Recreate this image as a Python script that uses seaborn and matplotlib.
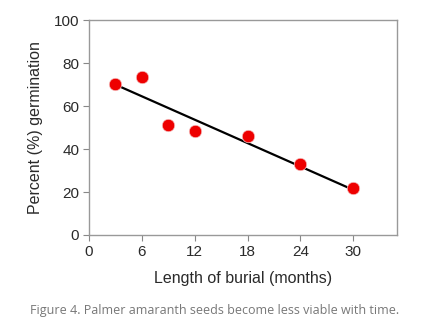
import matplotlib
matplotlib.use("Agg")
import matplotlib.pyplot as plt
import seaborn as sns
import pandas as pd

months = [3, 6, 9, 12, 18, 24, 30]
germination = [70.5, 73.5, 51, 48.5, 46, 33, 22]
errors = [1.0, 1.0, 2.5, 1.0, 1.5, 1.5, 1.0]
fit_x = [3, 30]
fit_y = [70, 21]
x_ticks = [0, 6, 12, 18, 24, 30]
y_ticks = [0, 20, 40, 60, 80, 100]

sns.set_theme(style="white")
plt.rcParams['font.family'] = ['Liberation Sans', 'DejaVu Sans']

fig = plt.figure(figsize=(4.33, 3.25), dpi=100)
fig.patch.set_facecolor('white')
ax = fig.add_axes([0.2055, 0.277, 0.712, 0.661])

df = pd.DataFrame({"m": months, "g": germination})
ax.errorbar(months, germination, yerr=errors, fmt='none', ecolor='#c8c8c8', elinewidth=1, zorder=1)
sns.lineplot(x=fit_x, y=fit_y, ax=ax, color='black', linewidth=1.6, zorder=2)
sns.scatterplot(data=df, x="m", y="g", ax=ax, color='#ee0000', s=80,
                edgecolor='#f6c0c0', linewidth=0.5, zorder=3)

ax.set_xlim(0, 35)
ax.set_ylim(0, 100)
ax.set_xticks(x_ticks)
ax.set_yticks(y_ticks)
ax.tick_params(axis='both', which='both', direction='out', length=4, width=0.8,
               color='#888888', labelsize=11, labelcolor='#2a2a2a',
               bottom=True, left=True, pad=3)
for s in ax.spines.values():
    s.set_color('#999999')
    s.set_linewidth(1.0)
ax.set_xlabel("Length of burial (months)", fontsize=11.5, color='#2a2a2a', labelpad=9)
ax.set_ylabel("Percent (%) germination", fontsize=11.5, color='#2a2a2a', labelpad=8)

fig.text(0.07, 0.035, "Figure 4. Palmer amaranth seeds become less viable with time.",
         fontsize=9.0, color='#777777', family=['Open Sans', 'DejaVu Sans'])

fig.savefig("out.png", dpi=100)
